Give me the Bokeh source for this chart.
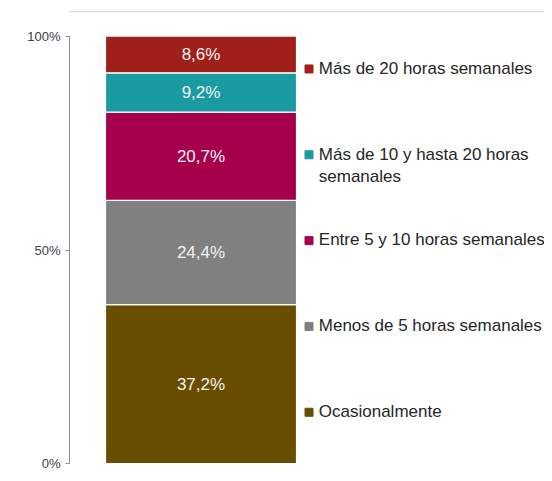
from bokeh.plotting import figure
from bokeh.models import ColumnDataSource, FixedTicker, PrintfTickFormatter, BoxAnnotation, Range1d
from bokeh.core.properties import value
from bokeh.embed import file_html
from bokeh.resources import INLINE

# ---- data (bottom to top) ----
categories = ["Ocasionalmente", "Menos de 5 horas semanales", "Entre 5 y 10 horas semanales",
              "Más de 10 y hasta 20 horas\nsemanales", "Más de 20 horas semanales"]
values = [37.2, 24.4, 20.7, 9.2, 8.6]
colors = ["#6A4E00", "#808080", "#A6004C", "#1A9BA1", "#9F1F1A"]
y_ticks = [0, 50, 100]

FONT = "Liberation Sans"

# ---- layout ----
W, H = 544, 473
LEFT, TOP, BOTTOM = 69, 10, 5
px_per_unit = 427 / 100.0
bar_px = 191.0
frame_w = W - LEFT
x0 = -0.5 - 36 / bar_px
x1 = x0 + frame_w / bar_px
y_top = 100 + (36 - TOP) / px_per_unit
y_bot = -((H - BOTTOM) - 463) / px_per_unit

p = figure(width=W, height=H, output_backend="svg", toolbar_location=None,
           x_range=Range1d(x0, x1), y_range=Range1d(y_bot, y_top),
           min_border_left=LEFT, min_border_right=0, min_border_top=TOP, min_border_bottom=BOTTOM)
p.outline_line_color = None
p.xgrid.visible = False
p.ygrid.visible = False
p.xaxis.visible = False

# stacked segments
bottoms, tops = [], []
acc = 0.0
for v in values:
    bottoms.append(acc)
    acc += v
    tops.append(acc)
mids = [(b + t) / 2 for b, t in zip(bottoms, tops)]
labels = [f"{v:.1f}".replace(".", ",") + "%" for v in values]

src = ColumnDataSource(dict(x=[0] * len(values), bottom=bottoms, top=tops, color=colors,
                            mid=mids, label=labels))
p.vbar(x="x", width=1, bottom="bottom", top="top", fill_color="color", line_color="white",
       line_width=1.2, source=src)
p.text(x="x", y="mid", text="label", source=src, text_color="#F2F2F2",
       text_font=value(FONT), text_font_size="17px", text_align="center", text_baseline="middle")

# legend (top to bottom)
row0 = 92.4
step = 20.1
sq_x = x0 + 239.5 / bar_px
tx_x = x0 + 249.3 / bar_px
leg_y = [row0 - i * step for i in range(len(values))]
leg_src = ColumnDataSource(dict(
    sx=[sq_x] * len(values), tx=[tx_x] * len(values), y=leg_y,
    ty=[y + 10.2 / px_per_unit for y in leg_y],
    color=list(reversed(colors)), label=list(reversed(categories))))
p.scatter(x="sx", y="y", marker="square", size=8, fill_color="color", line_color="color",
          source=leg_src)
p.text(x="tx", y="ty", text="label", source=leg_src, text_color="#262626",
       text_font=value(FONT), text_font_size="17px", text_align="left", text_baseline="top",
       text_line_height=1.18)

# y axis
ax = p.yaxis[0]
ax.ticker = FixedTicker(ticks=y_ticks)
ax.formatter = PrintfTickFormatter(format="%d%%")
ax.bounds = (0, 100)
ax.axis_line_color = "#8C8C8C"
ax.major_tick_line_color = "#8C8C8C"
ax.major_tick_out = 4
ax.major_tick_in = 0
ax.minor_tick_line_color = None
ax.major_label_text_font = FONT
ax.major_label_text_font_size = "13px"
ax.major_label_text_color = "#404040"
ax.major_label_standoff = 5

# top rule
p.add_layout(BoxAnnotation(left=x0 - 60 / bar_px, right=x1 + 1,
                           top=y_top - 0.2 / px_per_unit, bottom=y_top - 1.7 / px_per_unit,
                           fill_color="#DCDCDC", fill_alpha=1, line_color=None))

open("out.html", "w").write(file_html(p, INLINE))
